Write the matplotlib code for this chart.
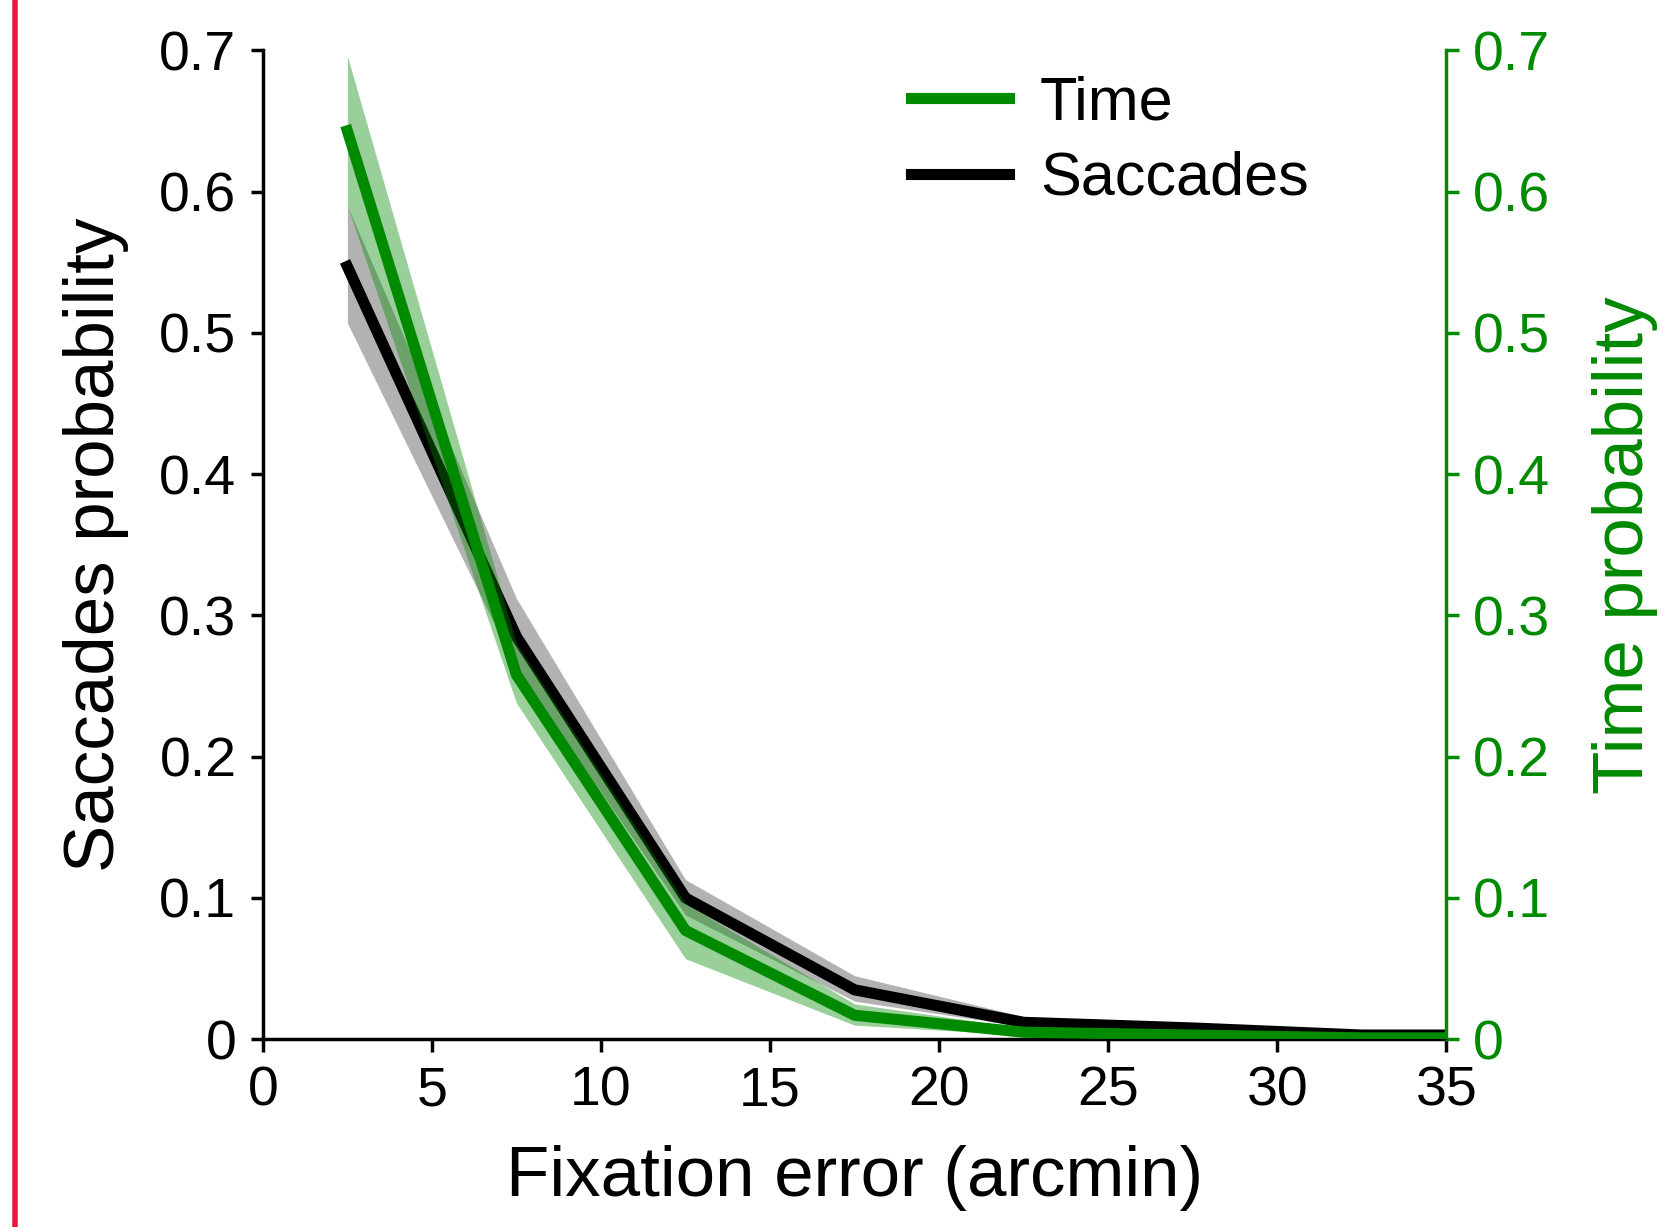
import matplotlib
matplotlib.use("Agg")
import matplotlib.pyplot as plt
import numpy as np

plt.rcParams['font.family'] = ['Liberation Sans', 'DejaVu Sans']

x = [2.5, 7.5, 12.5, 17.5, 22.5, 27.5, 32.5, 37.5]
sacc = [0.547, 0.285, 0.100, 0.035, 0.012, 0.008, 0.003, 0.003]
sacc_lo = [0.507, 0.262, 0.088, 0.027, 0.009, 0.006, 0.002, 0.002]
sacc_hi = [0.590, 0.312, 0.113, 0.045, 0.016, 0.010, 0.004, 0.004]
time = [0.643, 0.258, 0.077, 0.017, 0.005, 0.003, 0.001, 0.001]
time_lo = [0.590, 0.238, 0.057, 0.010, 0.003, 0.002, 0.0005, 0.0005]
time_hi = [0.696, 0.280, 0.096, 0.025, 0.008, 0.004, 0.002, 0.002]

green = '#008a00'
fig = plt.figure(figsize=(16.74, 12.27), dpi=100)
ax = fig.add_axes([0.157, 0.153, 0.707, 0.806])
ax2 = ax.twinx()

ax.fill_between(x, sacc_lo, sacc_hi, color='gray', alpha=0.6, lw=0)
ax.plot(x, sacc, color='black', lw=8, label='Saccades')
ax2.fill_between(x, time_lo, time_hi, color=green, alpha=0.4, lw=0)
ax2.plot(x, time, color=green, lw=8, label='Time')

for a in (ax, ax2):
    a.set_xlim(0, 35)
    a.set_ylim(0, 0.7)
    a.spines['top'].set_visible(False)
ax.spines['right'].set_visible(False)
ax2.spines['left'].set_visible(False)
ax2.spines['right'].set_color(green)
ax2.spines['right'].set_linewidth(2.5)
ax.spines['left'].set_linewidth(2.5)
ax.spines['bottom'].set_linewidth(2.5)

yt = [0, 0.1, 0.2, 0.3, 0.4, 0.5, 0.6, 0.7]
ylab = ['0', '0.1', '0.2', '0.3', '0.4', '0.5', '0.6', '0.7']
ax.set_yticks(yt, ylab)
ax2.set_yticks(yt, ylab)
ax.set_xticks([0, 5, 10, 15, 20, 25, 30, 35])
ax.tick_params(labelsize=40, width=2.5, length=9, pad=10)
ax2.tick_params(labelsize=40, width=2.5, length=9, pad=10, colors=green)

ax.set_xlabel('Fixation error (arcmin)', fontsize=51, labelpad=20)
ax.set_ylabel('Saccades probability', fontsize=51, labelpad=22)
ax2.set_ylabel('Time probability', fontsize=51, color=green, labelpad=30)

h1, l1 = ax2.get_legend_handles_labels()
h2, l2 = ax.get_legend_handles_labels()
ax.legend(h1 + h2, l1 + l2, loc='upper right', bbox_to_anchor=(0.93, 1.03),
          fontsize=44, frameon=False, handlelength=1.6, handletextpad=0.5,
          labelspacing=0.3)

fig.add_artist(plt.Line2D([0.009, 0.009], [0, 1], color='#e8193c', lw=4,
                          transform=fig.transFigure))
fig.savefig('out.png', dpi=100)
